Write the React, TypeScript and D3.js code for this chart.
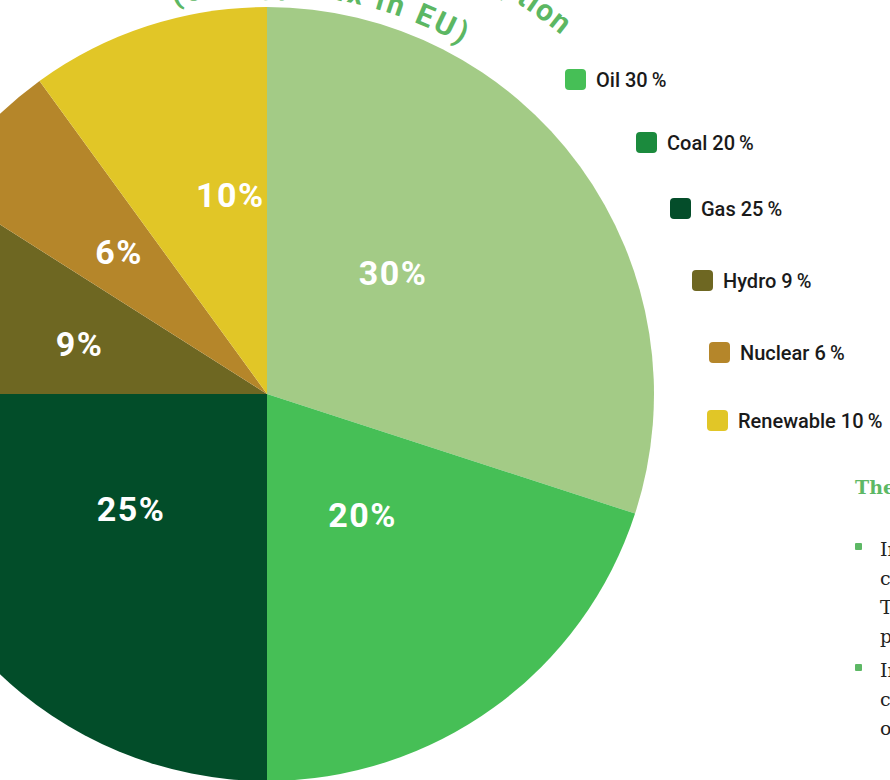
import React from "react";
import * as d3 from "d3";

const categories = ["Oil", "Coal", "Gas", "Hydro", "Nuclear", "Renewable"];
const values = [30, 20, 25, 9, 6, 10];
const sliceColors = ["#a3cb86", "#46bf56", "#024d29", "#6e6722", "#b5862a", "#e1c627"];
const legendColors = ["#46bf56", "#1b8a3d", "#044d2a", "#6e6722", "#b5862a", "#e1c627"];
const titleOuter = "Energy Consumption";
const titleInner = "(energy mix in EU)";
const sideHeading = "The energy mix";
const bullets = [
  ["In 2020, oil was the largest", "contributor to energy use.", "The share of renewables is", "positive and rising every year."],
  ["In the EU, gas and coal", "combined make up almost", "one half of consumption."],
];

// layout (not data)
const W = 890, H = 780;
const CX = 267, CY = 394, R = 387;
const labelRadii = [175, 154, 178, 194, 205, 202];
const labelAngleOffsets = [-7.9, -2.4, 4.8, -1.3, 0.6, 7.5];
const legendPos = [
  [565, 69], [636, 132], [670, 198], [692, 270], [709, 342], [707, 410],
];

function arcPath(r: number, a0: number, a1: number) {
  const p = (a: number) => [CX + r * Math.sin(a), CY - r * Math.cos(a)];
  const [x0, y0] = p(a0);
  const [x1, y1] = p(a1);
  return `M${x0},${y0} A${r},${r} 0 0 1 ${x1},${y1}`;
}

export default function App() {
  const pie = d3.pie<number>().sort(null).value((d) => d);
  const arcs = pie(values);
  const arcGen = d3.arc<d3.PieArcDatum<number>>().innerRadius(0).outerRadius(R);
  const rad = Math.PI / 180;
  const bodyFont = "'DejaVu Serif', 'Liberation Serif', serif";
  return (
    <svg width={W} height={H} style={{ position: "absolute", left: 0, top: 0 }}>
      <defs>
        <path id="titleOuterPath" d={arcPath(464, -80 * rad, 39.5 * rad)} />
        <path id="titleInnerPath" d={arcPath(400, -60 * rad, 29.5 * rad)} />
      </defs>
      <g transform={`translate(${CX},${CY})`}>
        {arcs.map((a, i) => (
          <path key={i} d={arcGen(a) || ""} fill={sliceColors[i]} />
        ))}
        {arcs.map((a, i) => {
          const mid = (a.startAngle + a.endAngle) / 2 + labelAngleOffsets[i] * rad;
          const r = labelRadii[i];
          return (
            <text
              key={"l" + i}
              x={r * Math.sin(mid)}
              y={-r * Math.cos(mid)}
              textAnchor="middle"
              dominantBaseline="central"
              fill="#ffffff"
              fontFamily="Roboto, sans-serif"
              fontWeight={700}
              fontSize={34}
              letterSpacing={1.5}
            >
              {a.data}%
            </text>
          );
        })}
      </g>
      <text fill="#5cb763" fontFamily="Roboto, sans-serif" fontWeight={700} fontSize={30} letterSpacing={1.5}>
        <textPath href="#titleOuterPath" startOffset="100%" textAnchor="end">{titleOuter}</textPath>
      </text>
      <text fill="#5cb763" fontFamily="Roboto, sans-serif" fontWeight={700} fontSize={30} letterSpacing={3}>
        <textPath href="#titleInnerPath" startOffset="100%" textAnchor="end">{titleInner}</textPath>
      </text>
      {categories.map((c, i) => (
        <g key={"lg" + i} transform={`translate(${legendPos[i][0]},${legendPos[i][1]})`}>
          <rect width={21} height={21} rx={4} fill={legendColors[i]} />
          <text x={31} y={18} fontFamily="Roboto, sans-serif" fontWeight={500} fontSize={20} fill="#1a1a1a">
            {c} {values[i]}{"\u2009"}%
          </text>
        </g>
      ))}
      <text x={855} y={494} fill="#5db865" fontFamily={bodyFont} fontWeight={700} fontSize={19}>
        {sideHeading}
      </text>
      {bullets.map((lines, bi) => {
        const top = bi === 0 ? 556 : 677;
        return (
          <g key={"b" + bi}>
            <rect x={855} y={top - 13} width={7} height={7} rx={1} fill="#5db865" />
            {lines.map((ln, li) => (
              <text key={li} x={880} y={top + li * 29} fill="#222" fontFamily={bodyFont} fontSize={19}>
                {ln}
              </text>
            ))}
          </g>
        );
      })}
    </svg>
  );
}
